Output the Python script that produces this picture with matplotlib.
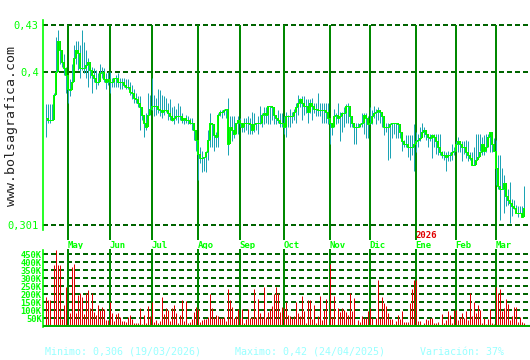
import numpy as np
import matplotlib.pyplot as plt

# cotizacion diaria (indice de sesion 0 = 14/04/2025 ... 239 = 20/03/2026)
close = [0.370, 0.369, 0.369, 0.369, 0.385, 0.400, 0.420, 0.414, 0.406, 0.402,
         0.398, 0.389, 0.388, 0.393, 0.409, 0.414, 0.412, 0.402, 0.402, 0.402,
         0.404, 0.406, 0.401, 0.398, 0.396, 0.393, 0.393, 0.399, 0.400, 0.395,
         0.393, 0.395, 0.393, 0.393, 0.396, 0.396, 0.393, 0.393, 0.393, 0.391,
         0.390, 0.390, 0.387, 0.386, 0.383, 0.382, 0.380, 0.377, 0.372, 0.367,
         0.364, 0.372, 0.376, 0.378, 0.378, 0.378, 0.376, 0.375, 0.374, 0.375,
         0.375, 0.373, 0.371, 0.369, 0.370, 0.371, 0.371, 0.371, 0.369, 0.370,
         0.369, 0.369, 0.367, 0.367, 0.362, 0.356, 0.347, 0.344, 0.344, 0.345,
         0.348, 0.356, 0.367, 0.366, 0.359, 0.358, 0.372, 0.374, 0.374, 0.375,
         0.376, 0.353, 0.364, 0.362, 0.360, 0.367, 0.369, 0.367, 0.364, 0.367,
         0.367, 0.367, 0.366, 0.362, 0.366, 0.367, 0.367, 0.367, 0.372, 0.373,
         0.372, 0.378, 0.378, 0.377, 0.372, 0.370, 0.369, 0.367, 0.367, 0.364,
         0.371, 0.371, 0.371, 0.371, 0.374, 0.377, 0.380, 0.382, 0.380, 0.378,
         0.378, 0.374, 0.380, 0.378, 0.376, 0.376, 0.375, 0.375, 0.375, 0.375,
         0.374, 0.370, 0.367, 0.364, 0.371, 0.372, 0.370, 0.371, 0.373, 0.373,
         0.378, 0.378, 0.371, 0.367, 0.364, 0.364, 0.364, 0.366, 0.367, 0.372,
         0.370, 0.366, 0.367, 0.371, 0.373, 0.374, 0.375, 0.374, 0.371, 0.364,
         0.364, 0.364, 0.366, 0.367, 0.367, 0.367, 0.366, 0.361, 0.355, 0.353,
         0.353, 0.351, 0.351, 0.351, 0.353, 0.355, 0.356, 0.357, 0.361, 0.362,
         0.360, 0.358, 0.357, 0.359, 0.358, 0.355, 0.351, 0.348, 0.346, 0.346,
         0.345, 0.346, 0.346, 0.348, 0.349, 0.353, 0.355, 0.353, 0.351, 0.351,
         0.348, 0.346, 0.344, 0.340, 0.340, 0.343, 0.345, 0.348, 0.353, 0.349,
         0.351, 0.358, 0.361, 0.353, 0.349, 0.338, 0.326, 0.324, 0.324, 0.328,
         0.320, 0.317, 0.315, 0.313, 0.312, 0.309, 0.309, 0.309, 0.306, 0.312]

high = [0.379, 0.379, 0.379, 0.379, 0.386, 0.422, 0.427, 0.418, 0.412, 0.411,
        0.403, 0.398, 0.395, 0.405, 0.417, 0.420, 0.420, 0.417, 0.427, 0.419,
        0.414, 0.409, 0.406, 0.403, 0.402, 0.401, 0.399, 0.405, 0.403, 0.402,
        0.399, 0.400, 0.400, 0.396, 0.396, 0.398, 0.399, 0.396, 0.396, 0.396,
        0.395, 0.395, 0.393, 0.391, 0.389, 0.386, 0.384, 0.384, 0.377, 0.371,
        0.373, 0.386, 0.385, 0.396, 0.385, 0.383, 0.389, 0.388, 0.385, 0.384,
        0.383, 0.380, 0.382, 0.377, 0.378, 0.376, 0.380, 0.378, 0.373, 0.370,
        0.372, 0.371, 0.370, 0.370, 0.367, 0.358, 0.351, 0.351, 0.349, 0.345,
        0.349, 0.362, 0.373, 0.367, 0.362, 0.361, 0.373, 0.375, 0.375, 0.376,
        0.376, 0.383, 0.371, 0.371, 0.371, 0.367, 0.371, 0.370, 0.367, 0.370,
        0.370, 0.371, 0.370, 0.374, 0.373, 0.367, 0.371, 0.378, 0.373, 0.377,
        0.377, 0.378, 0.378, 0.377, 0.375, 0.371, 0.375, 0.373, 0.373, 0.371,
        0.374, 0.372, 0.376, 0.374, 0.376, 0.380, 0.385, 0.383, 0.384, 0.384,
        0.382, 0.382, 0.382, 0.383, 0.380, 0.380, 0.386, 0.380, 0.380, 0.380,
        0.380, 0.380, 0.370, 0.367, 0.376, 0.373, 0.380, 0.374, 0.374, 0.377,
        0.379, 0.380, 0.378, 0.367, 0.367, 0.367, 0.367, 0.367, 0.373, 0.373,
        0.373, 0.371, 0.377, 0.375, 0.378, 0.376, 0.377, 0.375, 0.373, 0.370,
        0.367, 0.367, 0.367, 0.367, 0.367, 0.367, 0.367, 0.362, 0.360, 0.356,
        0.359, 0.359, 0.359, 0.359, 0.366, 0.361, 0.360, 0.364, 0.367, 0.364,
        0.360, 0.360, 0.360, 0.360, 0.360, 0.360, 0.360, 0.360, 0.349, 0.349,
        0.348, 0.349, 0.348, 0.353, 0.351, 0.355, 0.358, 0.353, 0.355, 0.355,
        0.356, 0.355, 0.348, 0.348, 0.351, 0.360, 0.360, 0.360, 0.358, 0.359,
        0.360, 0.360, 0.361, 0.356, 0.357, 0.356, 0.346, 0.346, 0.338, 0.333,
        0.327, 0.324, 0.329, 0.318, 0.317, 0.314, 0.313, 0.313, 0.313, 0.326]

low = [0.358, 0.367, 0.367, 0.369, 0.374, 0.399, 0.412, 0.405, 0.403, 0.398,
       0.386, 0.380, 0.384, 0.390, 0.399, 0.405, 0.401, 0.396, 0.401, 0.399,
       0.396, 0.390, 0.396, 0.386, 0.393, 0.389, 0.391, 0.395, 0.396, 0.393,
       0.389, 0.391, 0.386, 0.390, 0.390, 0.390, 0.390, 0.389, 0.389, 0.390,
       0.389, 0.389, 0.385, 0.382, 0.380, 0.380, 0.377, 0.362, 0.369, 0.358,
       0.362, 0.371, 0.372, 0.375, 0.371, 0.372, 0.373, 0.371, 0.370, 0.372,
       0.374, 0.369, 0.369, 0.368, 0.366, 0.369, 0.367, 0.369, 0.367, 0.366,
       0.367, 0.366, 0.366, 0.362, 0.356, 0.349, 0.330, 0.341, 0.335, 0.336,
       0.335, 0.343, 0.351, 0.351, 0.349, 0.351, 0.351, 0.371, 0.370, 0.372,
       0.370, 0.346, 0.354, 0.355, 0.357, 0.360, 0.360, 0.364, 0.361, 0.361,
       0.362, 0.360, 0.360, 0.360, 0.361, 0.362, 0.360, 0.366, 0.364, 0.366,
       0.367, 0.366, 0.366, 0.369, 0.366, 0.366, 0.367, 0.364, 0.364, 0.360,
       0.358, 0.364, 0.364, 0.367, 0.369, 0.367, 0.372, 0.377, 0.369, 0.372,
       0.373, 0.367, 0.373, 0.369, 0.373, 0.371, 0.371, 0.371, 0.367, 0.367,
       0.367, 0.366, 0.353, 0.359, 0.364, 0.366, 0.367, 0.355, 0.361, 0.364,
       0.367, 0.367, 0.364, 0.364, 0.353, 0.353, 0.364, 0.364, 0.364, 0.360,
       0.357, 0.357, 0.366, 0.366, 0.370, 0.366, 0.369, 0.367, 0.364, 0.359,
       0.361, 0.343, 0.344, 0.357, 0.360, 0.357, 0.357, 0.357, 0.349, 0.351,
       0.351, 0.345, 0.343, 0.346, 0.336, 0.348, 0.351, 0.355, 0.360, 0.358,
       0.356, 0.351, 0.355, 0.344, 0.351, 0.347, 0.346, 0.346, 0.344, 0.343,
       0.336, 0.342, 0.342, 0.343, 0.346, 0.349, 0.348, 0.348, 0.342, 0.347,
       0.344, 0.342, 0.343, 0.340, 0.340, 0.342, 0.344, 0.349, 0.346, 0.346,
       0.348, 0.351, 0.348, 0.348, 0.349, 0.327, 0.324, 0.304, 0.324, 0.309,
       0.313, 0.314, 0.302, 0.307, 0.311, 0.309, 0.306, 0.309, 0.306, 0.309]

# volumen en miles de titulos
volume = [183, 163, 163, 3, 381, 475, 381, 381, 44, 131,
          246, 10, 81, 371, 388, 81, 194, 204, 183, 73,
          204, 225, 110, 204, 90, 69, 131, 100, 121, 106,
          38, 38, 152, 81, 31, 73, 81, 58, 31, 31,
          23, 58, 69, 44, 21, 21, 21, 110, 12, 69,
          17, 125, 63, 152, 27, 38, 17, 31, 183, 73,
          110, 100, 31, 110, 131, 81, 17, 69, 163, 31,
          156, 17, 27, 44, 90, 121, 106, 27, 38, 44,
          44, 58, 200, 110, 58, 69, 63, 48, 48, 58,
          31, 231, 163, 121, 52, 65, 106, 52, 106, 21,
          44, 106, 52, 58, 231, 58, 169, 81, 58, 246,
          58, 90, 106, 125, 198, 244, 204, 90, 121, 110,
          152, 69, 65, 48, 63, 152, 81, 65, 189, 94,
          17, 163, 163, 44, 131, 17, 63, 185, 38, 100,
          169, 5, 385, 58, 185, 5, 110, 90, 110, 100,
          90, 69, 204, 94, 175, 5, 38, 23, 65, 52,
          52, 94, 110, 52, 5, 52, 288, 52, 183, 146,
          125, 81, 44, 44, 15, 31, 69, 44, 94, 27,
          27, 27, 146, 231, 288, 288, 31, 31, 5, 17,
          44, 38, 52, 52, 21, 21, 27, 5, 73, 21,
          38, 94, 69, 17, 100, 100, 38, 58, 81, 48,
          94, 38, 204, 65, 152, 81, 131, 100, 21, 48,
          12, 44, 106, 17, 10, 246, 204, 231, 94, 110,
          169, 135, 38, 65, 121, 121, 23, 58, 27, 17]

month_pos = [11, 32, 53, 76, 97, 119, 142, 162, 185, 205, 225]
month_labels = ["May", "Jun", "Jul", "Ago", "Sep", "Oct", "Nov", "Dic", "Ene", "Feb", "Mar"]
price_ticks = [0.301, 0.4, 0.43]
price_labels = ["0,301", "0,4", "0,43"]
vol_ticks = [50, 100, 150, 200, 250, 300, 350, 400, 450]
vol_labels = ["50K", "100K", "150K", "200K", "250K", "300K", "350K", "400K", "450K"]

LIME = "#00ff00"
DKGREEN = "#006400"
MGREEN = "#008800"
TEAL = "#1ca3b4"
RED = "#e00000"
MONO = "DejaVu Sans Mono"

W, H = 530, 360
def box(x0, y0, x1, y1):
    return [x0 / W, 1 - y1 / H, (x1 - x0) / W, (y1 - y0) / H]

fig = plt.figure(figsize=(5.3, 3.6), dpi=100)
fig.patch.set_facecolor("white")

idx = np.arange(len(close))
close = np.array(close)
high = np.array(high)
low = np.array(low)
PX = 0.72  # un pixel en puntos

# ---- panel de precios ----
ax = fig.add_axes(box(43, 20, 528, 240))
k = (price_ticks[2] - price_ticks[0]) / 200.0
ybot, ytop = price_ticks[0] - 15 * k, price_ticks[2] + 5 * k
ax.set_xlim(-1.25, 241.25)
ax.set_ylim(ybot, ytop)

for p in price_ticks:
    ax.axhline(p, color=DKGREEN, lw=1.2, dashes=(3, 1.8), antialiased=False, zorder=1)
ax.vlines(month_pos, ybot, price_ticks[2], color=MGREEN, lw=1.3, antialiased=False, zorder=1)

# rango maximo-minimo de cada sesion (1 px de ancho)
ax.vlines(idx, low, high, color=TEAL, lw=PX, antialiased=True, zorder=2)
# cuerpo (cierre anterior -> cierre), 2 px
body_lo = np.minimum(close[:-1], close[1:])
body_hi = np.maximum(close[:-1], close[1:])
ax.bar(idx[1:] - 0.25, body_hi - body_lo, bottom=body_lo, width=1.0, align="edge",
       color="#00e600", linewidth=0, zorder=3)
ax.plot(idx, close, drawstyle="steps-mid", color=LIME, lw=PX, zorder=4)

for s in ["top", "right", "bottom"]:
    ax.spines[s].set_visible(False)
ax.spines["left"].set_color(LIME)
ax.spines["left"].set_linewidth(1.2)
ax.spines["left"].set_bounds(price_ticks[0] - 5 * k, ytop)
ax.set_xticks([])
ax.set_yticks(price_ticks)
ax.set_yticklabels(price_labels, color=LIME, fontfamily=MONO, fontsize=7.5)
ax.tick_params(axis="y", length=0, pad=3)

for m, lab in zip(month_pos, month_labels):
    ax.text(m, -5 / 220, lab, transform=ax.get_xaxis_transform(), color=LIME,
            fontfamily=MONO, fontsize=6.5, fontweight="bold", ha="left", va="center", clip_on=False)
ax.text(month_pos[8], 4 / 220, "2026", transform=ax.get_xaxis_transform(), color="#e00000",
        fontfamily=MONO, fontsize=6.5, fontweight="bold", ha="left", va="center", clip_on=False)

# ---- panel de volumen ----
axv = fig.add_axes(box(43, 249, 530, 327))
axv.set_xlim(-1.25, 242.25)
axv.set_ylim(-6.25, 481.25)
for v in vol_ticks:
    axv.axhline(v, color=DKGREEN, lw=1.2, dashes=(3, 1.8), antialiased=False, zorder=1)
axv.vlines(month_pos, -6.25, 481.25, color=MGREEN, lw=1.3, antialiased=False, zorder=1)
axv.vlines(idx, 0, volume, color=RED, lw=PX, antialiased=True, zorder=2)
axv.axhline(0, color="#00b000", lw=1.5, zorder=3)

for s in ["top", "right", "bottom"]:
    axv.spines[s].set_visible(False)
axv.spines["left"].set_color(LIME)
axv.spines["left"].set_linewidth(1.2)
axv.spines["left"].set_bounds(-6.25, 475)
axv.set_xticks([])
axv.set_yticks(vol_ticks)
axv.set_yticklabels(vol_labels, color=LIME, fontfamily=MONO, fontsize=6.3, fontweight="bold")
axv.tick_params(axis="y", length=0, pad=1)

# ---- textos ----
fig.text(12 / W, 1 - 126 / H, "www.bolsagrafica.com", rotation=90, color="#222222",
         fontfamily=MONO, fontsize=9.5, ha="center", va="center")
foot = "#99ffff"
fig.text(45 / W, 1 - 352 / H, "Minimo: 0,306 (19/03/2026)", color=foot, fontfamily=MONO, fontsize=7.2, va="center")
fig.text(235 / W, 1 - 352 / H, "Maximo: 0,42 (24/04/2025)", color=foot, fontfamily=MONO, fontsize=7.2, va="center")
fig.text(420 / W, 1 - 352 / H, "Variación: 37%", color=foot, fontfamily=MONO, fontsize=7.2, va="center")

fig.savefig("out.png", dpi=100, facecolor="white")
